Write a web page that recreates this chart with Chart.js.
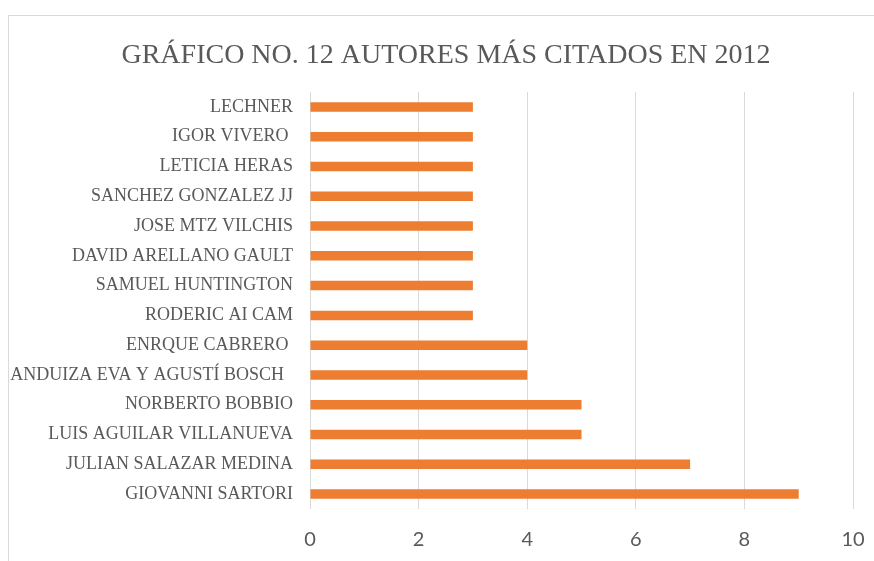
<!DOCTYPE html>
<html>
<head>
<meta charset="utf-8">
<script src="https://cdn.jsdelivr.net/npm/chart.js@4/dist/chart.umd.min.js"></script>
<style>
  html, body { margin: 0; padding: 0; background: #fff; overflow: hidden; }
  #frame { position: absolute; left: 8px; top: 15px; width: 900px; height: 600px; border: 1px solid #d9d9d9; box-sizing: border-box; }
  #chart { position: absolute; left: 0; top: 0; }
</style>
</head>
<body>
<div id="frame"></div>
<canvas id="chart" width="874" height="561"></canvas>
<script>
// autores, de arriba hacia abajo
const authors = [
    'LECHNER',
    'IGOR VIVERO ',
    'LETICIA HERAS',
    'SANCHEZ GONZALEZ JJ',
    'JOSE MTZ VILCHIS',
    'DAVID ARELLANO GAULT',
    'SAMUEL HUNTINGTON',
    'RODERIC AI CAM',
    'ENRQUE CABRERO ',
    'ANDUIZA EVA Y AGUSTÍ BOSCH  ',
    'NORBERTO BOBBIO',
    'LUIS AGUILAR VILLANUEVA',
    'JULIAN SALAZAR MEDINA',
    'GIOVANNI SARTORI'
];
const citations = [3, 3, 3, 3, 3, 3, 3, 3, 4, 4, 5, 5, 7, 9];
const xTicks = [0, 2, 4, 6, 8, 10];
const chartTitle = 'GRÁFICO NO. 12 AUTORES MÁS CITADOS EN 2012';

// title is centred on the whole frame, not on the canvas minus paddings
const frameTitle = {
    id: 'frameTitle',
    afterDraw(chart) {
        const c = chart.ctx;
        c.save();
        c.font = '28px "Liberation Serif"';
        c.fillStyle = '#595959';
        c.textAlign = 'center';
        c.textBaseline = 'middle';
        c.fillText(chartTitle, 446, 56);
        c.restore();
    }
};

const ctx = document.getElementById('chart').getContext('2d');
new Chart(ctx, {
    type: 'bar',
    data: {
        labels: authors,
        datasets: [{
            label: 'Citas',
            data: citations,
            backgroundColor: '#ED7D31',
            barPercentage: 0.32,
            categoryPercentage: 1.0
        }]
    },
    options: {
        indexAxis: 'y',
        responsive: false,
        animation: false,
        layout: { padding: { top: 92, right: 21, left: 0, bottom: 0 } },
        scales: {
            x: {
                min: 0, max: 10,
                afterBuildTicks: axis => { axis.ticks = xTicks.map(v => ({ value: v })); },
                afterFit: axis => { axis.height = 52; axis.paddingRight = 21; axis.paddingLeft = 0; },
                grid: { color: '#d9d9d9', lineWidth: 1, drawTicks: false },
                border: { display: false },
                ticks: { color: '#595959', padding: 19, maxRotation: 0, font: { family: 'Lato', size: 20 } }
            },
            y: {
                grid: { display: false, drawTicks: false },
                border: { display: false },
                afterFit: axis => { axis.width = 310; },
                ticks: { color: '#595959', padding: 17, autoSkip: false, font: { family: 'Liberation Serif', size: 18 } }
            }
        },
        plugins: {
            legend: { display: false },
            tooltip: { enabled: false },
            title: { display: false }
        }
    },
    plugins: [frameTitle]
});
</script>
</body>
</html>
